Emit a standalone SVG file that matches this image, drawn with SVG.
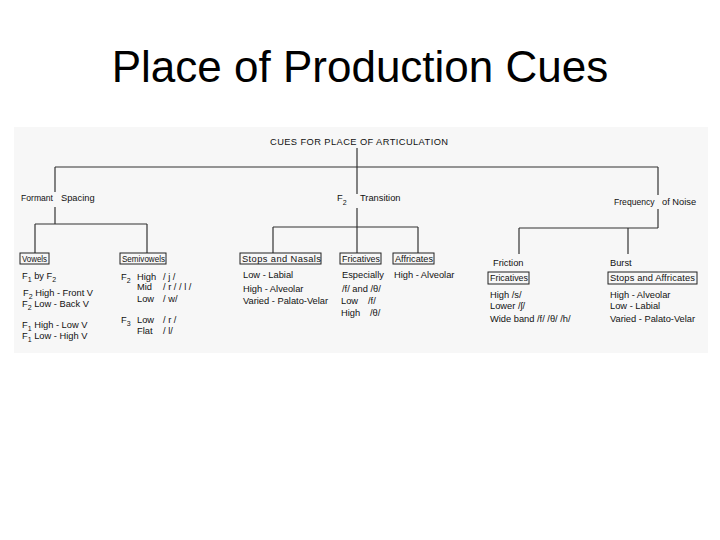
<svg xmlns="http://www.w3.org/2000/svg" width="720" height="540" viewBox="0 0 720 540">
<style>
.title{font-family:"Liberation Sans",Arial,sans-serif;font-size:44px;fill:#000}
.t{font-family:"Liberation Sans",Arial,sans-serif;font-size:9.3px;fill:#111}
.h{font-size:8.6px}
.s{font-size:7px}
.box{fill:none;stroke:#222;stroke-width:1}
.ln{stroke:#333;stroke-width:1.2;fill:none}
</style>
<rect x="0" y="0" width="720" height="540" fill="#fff"/>
<rect x="14" y="127" width="694" height="226" fill="#f7f7f7"/>
<text class="title" x="360" y="82" text-anchor="middle">Place of Production Cues</text>

<g id="connectors">
<line class="ln" x1="357" y1="148" x2="357" y2="167"/>
<line class="ln" x1="55" y1="167" x2="658" y2="167"/>
<line class="ln" x1="55" y1="167" x2="55" y2="192"/>
<line class="ln" x1="55" y1="207" x2="55" y2="224"/>
<line class="ln" x1="35" y1="224" x2="147" y2="224"/>
<line class="ln" x1="35" y1="224" x2="35" y2="253"/>
<line class="ln" x1="147" y1="224" x2="147" y2="253"/>
<line class="ln" x1="357" y1="167" x2="357" y2="194"/>
<line class="ln" x1="357" y1="208" x2="357" y2="253"/>
<line class="ln" x1="273" y1="227" x2="418" y2="227"/>
<line class="ln" x1="273" y1="227" x2="273" y2="253"/>
<line class="ln" x1="418" y1="227" x2="418" y2="253"/>
<line class="ln" x1="658" y1="167" x2="658" y2="195"/>
<line class="ln" x1="658" y1="209" x2="658" y2="228"/>
<line class="ln" x1="519" y1="228" x2="658" y2="228"/>
<line class="ln" x1="519" y1="228" x2="519" y2="254"/>
<line class="ln" x1="628" y1="228" x2="628" y2="254"/>
</g>

<g id="root"><text class="t" x="270" y="145" textLength="178" lengthAdjust="spacing">CUES FOR PLACE OF ARTICULATION</text></g>
<g id="formant-spacing"><text class="t h" x="21" y="201">Formant</text><text class="t" x="61" y="201">Spacing</text></g>
<g id="f2-transition"><text class="t" x="337" y="201">F<tspan class="s" dy="4">2</tspan><tspan dy="-4" x="360">Transition</tspan></text></g>
<g id="frequency-of-noise"><text class="t h" x="614" y="205">Frequency</text><text class="t" x="662" y="205">of Noise</text></g>

<g id="vowels">
<rect class="box" x="20" y="253" width="29" height="11"/>
<text class="t" x="22" y="261.5" textLength="25" lengthAdjust="spacingAndGlyphs">Vowels</text>
<text class="t" x="22" y="279">F<tspan class="s" dy="3">1</tspan><tspan dy="-3"> by F</tspan><tspan class="s" dy="3">2</tspan></text>
<text class="t" x="23" y="296">F<tspan class="s" dy="3">2</tspan><tspan dy="-3"> High - Front V</tspan></text>
<text class="t" x="22" y="307">F<tspan class="s" dy="3">2</tspan><tspan dy="-3"> Low - Back V</tspan></text>
<text class="t" x="22" y="328">F<tspan class="s" dy="3">1</tspan><tspan dy="-3"> High - Low V</tspan></text>
<text class="t" x="22" y="339">F<tspan class="s" dy="3">1</tspan><tspan dy="-3"> Low - High V</tspan></text>
</g>

<g id="semivowels">
<rect class="box" x="120" y="253" width="46" height="11"/>
<text class="t" x="122" y="261.5" textLength="43" lengthAdjust="spacingAndGlyphs">Semivowels</text>
<text class="t" x="121" y="280">F<tspan class="s" dy="3">2</tspan></text>
<text class="t" x="137" y="280">High</text><text class="t" x="163" y="280">/ j /</text>
<text class="t" x="137" y="290">Mid</text><text class="t" x="163" y="290">/ r / / l /</text>
<text class="t" x="137" y="302">Low</text><text class="t" x="163" y="302">/ w/</text>
<text class="t" x="121" y="323">F<tspan class="s" dy="3">3</tspan></text>
<text class="t" x="137" y="323">Low</text><text class="t" x="163" y="323">/ r /</text>
<text class="t" x="137" y="334">Flat</text><text class="t" x="163" y="334">/ l/</text>
</g>

<g id="stops-nasals">
<rect class="box" x="240" y="253" width="81" height="11"/>
<text class="t" x="242" y="261.5" textLength="79" lengthAdjust="spacing">Stops and Nasals</text>
<text class="t" x="243" y="278">Low - Labial</text>
<text class="t" x="243" y="292">High - Alveolar</text>
<text class="t" x="243" y="304">Varied - Palato-Velar</text>
</g>

<g id="fricatives">
<rect class="box" x="340" y="253" width="41" height="11"/>
<text class="t" x="342" y="261.5" textLength="38" lengthAdjust="spacingAndGlyphs">Fricatives</text>
<text class="t" x="342" y="278">Especially</text>
<text class="t" x="342" y="292">/f/ and /θ/</text>
<text class="t" x="341" y="304">Low</text><text class="t" x="368" y="304">/f/</text>
<text class="t" x="341" y="316">High</text><text class="t" x="370" y="316">/θ/</text>
</g>

<g id="affricates">
<rect class="box" x="393" y="253" width="41" height="11"/>
<text class="t" x="395" y="261.5" textLength="38" lengthAdjust="spacingAndGlyphs">Affricates</text>
<text class="t" x="394" y="278">High - Alveolar</text>
</g>

<g id="friction">
<text class="t" x="493" y="266">Friction</text>
<rect class="box" x="488" y="272" width="41" height="12"/>
<text class="t" x="490" y="281" textLength="38" lengthAdjust="spacingAndGlyphs">Fricatives</text>
<text class="t" x="490" y="298">High /s/</text>
<text class="t" x="490" y="309">Lower /ʃ/</text>
<text class="t" x="490" y="322">Wide band /f/ /θ/ /h/</text>
</g>

<g id="burst">
<text class="t" x="610" y="266">Burst</text>
<rect class="box" x="608" y="272" width="89" height="12"/>
<text class="t" x="610" y="281" textLength="85" lengthAdjust="spacing">Stops and Affricates</text>
<text class="t" x="610" y="298">High - Alveolar</text>
<text class="t" x="610" y="309">Low - Labial</text>
<text class="t" x="610" y="322">Varied - Palato-Velar</text>
</g>
</svg>
